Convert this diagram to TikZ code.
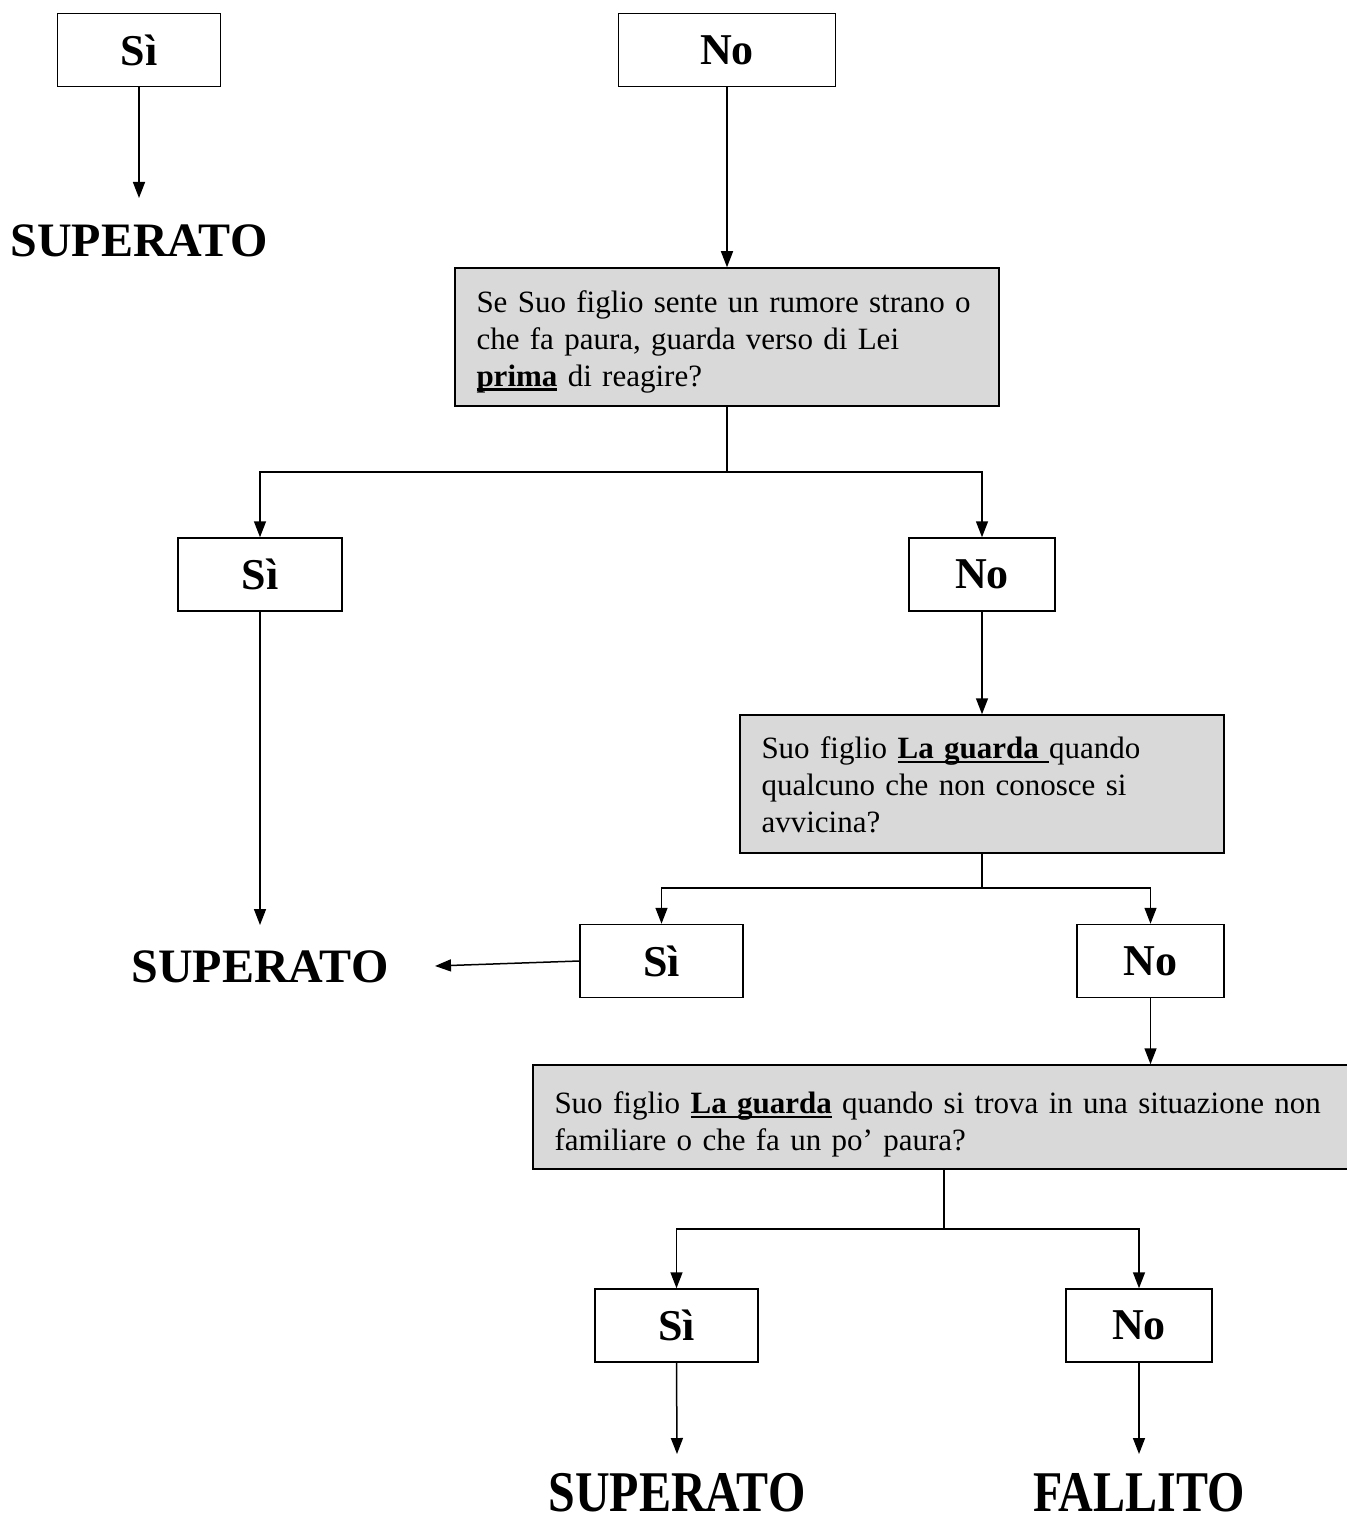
\documentclass[tikz,border=0pt]{standalone}
\usepackage{graphicx}
\usepackage{fontspec}
\setmainfont{Liberation Serif}
\usetikzlibrary{arrows.meta}
\definecolor{qgray}{RGB}{217,217,217}
% bold text with a heavy underline
\newsavebox{\ulbox}
\newcommand{\ulbf}[1]{\leavevmode\sbox{\ulbox}{\textbf{#1}}\rlap{\rule[-4.5pt]{\wd\ulbox}{2.6pt}}\usebox{\ulbox}}
% invisible strut that pushes the first line of a box down a little
\newcommand{\topstrut}[1]{\rule{0pt}{#1}}
% taller lettering for the final results
\newcommand{\tall}[1]{\scalebox{1}[1.2]{#1}}
\tikzset{
  answer/.style={draw, line width=1.5pt, minimum height=73pt, inner sep=0pt,
    font=\fontsize{44}{50}\selectfont\bfseries},
  question/.style={draw, fill=qgray, line width=1.5pt, align=left,
    inner xsep=21.5pt, inner ysep=0pt, font=\fontsize{31}{37}\selectfont},
  outcome/.style={inner sep=0pt, font=\fontsize{48}{54}\selectfont\bfseries},
  link/.style={line width=1.5pt, -{Triangle[length=16pt,width=12pt]}},
  plainlink/.style={line width=1.5pt},
}
\begin{document}
\begin{tikzpicture}[x=1pt,y=-1pt]
\useasboundingbox (0,0) rectangle (1346,1514);

% first level answers
\node[answer, minimum width=163pt] (si1) at (139,50) {Sì};
\node[answer, minimum width=217pt] (no1) at (727,50) {No};
\node[outcome] (sup1) at (139,241) {SUPERATO};
\coordinate (e1) at (139,198);
\draw[link] (si1.south) -- (e1);

% first question
\node[question, minimum height=138pt, text width=501pt] (q1) at (727,337)
  {\topstrut{31pt}Se Suo figlio sente un rumore strano o\\ che fa paura, guarda verso di Lei\\ \ulbf{prima} di reagire?};
\draw[link] (no1.south) -- (q1.north);

\node[answer, minimum width=164pt] (si2) at (260,574.5) {Sì};
\node[answer, minimum width=146pt] (no2) at (982,574.5) {No};
\coordinate (b1) at (727,472);
\draw[plainlink] (q1.south) -- (b1);
\draw[link] (b1) -| (si2.north);
\draw[link] (b1) -| (no2.north);

\node[outcome] (sup2) at (260,967) {SUPERATO};
\coordinate (e2) at (260,925);
\draw[link] (si2.south) -- (e2);

% second question
\node[question, minimum height=138pt, text width=441pt] (q2) at (982,784)
  {\topstrut{24pt}Suo figlio \ulbf{La guarda\ }quando\\ qualcuno che non conosce si\\ avvicina?};
\draw[link] (no2.south) -- (q2.north);

\node[answer, minimum width=163pt] (si3) at (661.5,961) {Sì};
\node[answer, minimum width=147pt] (no3) at (1150.5,961) {No};
\coordinate (b2) at (982,888);
\draw[plainlink] (q2.south) -- (b2);
\draw[link] (b2) -| (si3.north);
\draw[link] (b2) -| (no3.north);
\coordinate (e3) at (435,966);
\draw[link] (si3.west) -- (e3);

% third question
\node[question, minimum height=104pt, text width=779pt, inner xsep=21.5pt] (q3) at (944,1117)
  {\topstrut{37pt}Suo figlio \ulbf{La guarda} quando si trova in una situazione non\\ familiare o che fa un po’ paura?};
\draw[link] (no3.south) -- (no3.south |- q3.north);

\node[answer, minimum width=163pt] (si4) at (676.5,1325.5) {Sì};
\node[answer, minimum width=146pt] (no4) at (1139,1325.5) {No};
\coordinate (b3) at (944,1229);
\draw[plainlink] (q3.south) -- (b3);
\draw[link] (b3) -| (si4.north);
\draw[link] (b3) -| (no4.north);

\node[outcome] (sup3) at (677,1493) {\tall{SUPERATO}};
\node[outcome] (fal) at (1139,1493) {\tall{FALLITO}};
\coordinate (e4) at (677,1454);
\coordinate (e5) at (1139,1454);
\draw[link] (si4.south) -- (e4);
\draw[link] (no4.south) -- (e5);
\end{tikzpicture}
\end{document}
